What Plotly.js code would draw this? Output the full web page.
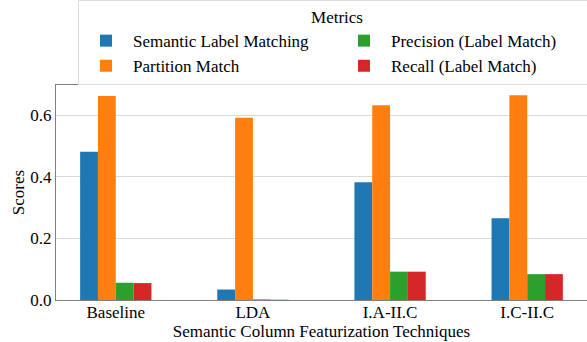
<!DOCTYPE html>
<html>
<head>
<meta charset="utf-8">
<script src="https://cdn.plot.ly/plotly-3.0.1.min.js"></script>
<style>html,body{margin:0;padding:0;background:#fff;}#chart{width:587px;height:342px;}</style>
</head>
<body>
<div id="chart"></div>
<script>
const categories = ["Baseline", "LDA", "I.A-II.C", "I.C-II.C"];
const semanticLabelMatching = [0.481, 0.034, 0.382, 0.265];
const partitionMatch = [0.662, 0.592, 0.632, 0.665];
const precisionLabelMatch = [0.056, 0.002, 0.092, 0.084];
const recallLabelMatch = [0.055, 0.001, 0.092, 0.084];
const seriesNames = ["Semantic Label Matching", "Partition Match", "Precision (Label Match)", "Recall (Label Match)"];
const yTicks = [0, 0.2, 0.4, 0.6];

const colors = ["#1f77b4", "#ff7f0e", "#2ca02c", "#d62728"];
const values = [semanticLabelMatching, partitionMatch, precisionLabelMatch, recallLabelMatch];
const ranks = [1, 3, 2, 4];
const xIdx = categories.map((c, i) => i);

const traces = values.map((v, k) => ({
  type: "bar",
  x: xIdx,
  y: v,
  name: seriesNames[k],
  marker: {color: colors[k], line: {width: 0}},
  legendrank: ranks[k]
}));

const font = {family: "Liberation Serif", size: 17, color: "#000"};

const layout = {
  width: 587, height: 342,
  margin: {l: 56, r: 0, t: 85, b: 42},
  paper_bgcolor: "#fff", plot_bgcolor: "#fff",
  font: font,
  barmode: "group",
  bargap: 0.48,
  bargroupgap: 0,
  showlegend: true,
  legend: {
    orientation: "h",
    xref: "container", yref: "container",
    x: 78/587, y: 1,
    xanchor: "left", yanchor: "top",
    itemwidth: 44,
    entrywidth: 199, entrywidthmode: "pixels",
    tracegroupgap: 0,
    bgcolor: "#fff", bordercolor: "#dddddd", borderwidth: 1,
    font: font,
    title: {text: "Metrics", side: "top center", font: font},
    traceorder: "normal"
  },
  xaxis: {
    range: [-0.436, 3.436],
    tickvals: xIdx, ticktext: categories,
    showgrid: false, zeroline: false,
    showline: true, linecolor: "#808080", linewidth: 1, mirror: true,
    ticks: "", tickfont: font, ticklabelstandoff: -3,
    title: {text: "Semantic Column Featurization Techniques", font: font, standoff: 0},
    automargin: false
  },
  yaxis: {
    range: [0, 0.698],
    tickvals: yTicks, tickformat: ".1f",
    showgrid: true, gridcolor: "#d9d9d9", gridwidth: 1,
    zeroline: false,
    showline: true, linecolor: "#808080", linewidth: 1, mirror: true,
    ticks: "", tickfont: font, ticklabelstandoff: 0,
    title: {text: "Scores", font: font, standoff: 1},
    automargin: false
  }
};

Plotly.newPlot("chart", traces, layout, {displayModeBar: false, staticPlot: true});
</script>
</body>
</html>
